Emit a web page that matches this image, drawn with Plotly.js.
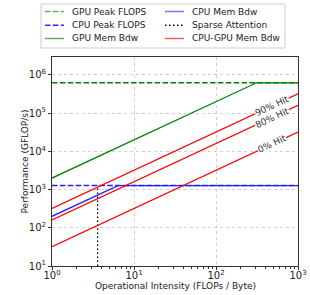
<!DOCTYPE html>
<html><head><meta charset="utf-8">
<script src="https://cdn.plot.ly/plotly-3.0.1.min.js"></script>
<style>body{margin:0;padding:0;background:#fff}#c{width:310px;height:295px}</style>
</head><body><div id="c"></div>
<script>
// Roofline parameters (GFLOP/s and GB/s)
const xRange = [1, 1000];
const gpuPeak = 624000;
const cpuPeak = 1275;
const gpuBdw = 2000;
const cpuBdw = 200;
const pcieBdw = 32;
const hitRates = [0.9, 0.8, 0.0];
const hitLabels = ["90% Hit", "80% Hit", "0% Hit"];
const labelX = 480;
const sparseAI = 3.6;
const xTickVals = [1, 10, 100, 1000];
const xTickText = ["10<sup>0</sup>", "10<sup>1</sup>", "10<sup>2</sup>", "10<sup>3</sup>"];
const yTickVals = [10, 100, 1000, 10000, 100000, 1000000];
const yTickText = ["10<sup>1</sup>", "10<sup>2</sup>", "10<sup>3</sup>", "10<sup>4</sup>", "10<sup>5</sup>", "10<sup>6</sup>"];
const xTitle = "Operational Intensity (FLOPs / Byte)";
const yTitle = "Performance (GFLOP/s)";
// legend (two columns)
const legendNames = ["GPU Peak FLOPS", "CPU Peak FLOPS", "GPU Mem Bdw", "CPU Mem Bdw", "Sparse Attention", "CPU-GPU Mem Bdw"];
const legendColors = ["#5cb85c", "#2a2aff", "#5cae5c", "#7474ff", "#000000", "#ff5c5c"];

const DASH = "5.5px,2.4px", DOT = "1.5px,2.5px";
const legendDash = [DASH, DASH, "solid", "solid", DOT, "solid"];

const traces = [];
function roofX(bdw, peak){ return [xRange[0], peak/bdw, xRange[1]]; }
function roofY(bdw, peak){ return [bdw*xRange[0], peak, peak]; }

traces.push({x: xRange, y: [gpuPeak, gpuPeak], mode:'lines', name:'GPU Peak FLOPS',
  line:{color:'#008000', dash:DASH, width:1.5}});
traces.push({x: xRange, y: [cpuPeak, cpuPeak], mode:'lines', name:'CPU Peak FLOPS',
  line:{color:'#2020ff', dash:DASH, width:1.5}});
traces.push({x: roofX(cpuBdw, cpuPeak), y: roofY(cpuBdw, cpuPeak), mode:'lines', name:'CPU Mem Bdw',
  line:{color:'#2020ff', width:1.3}});
traces.push({x: [sparseAI, sparseAI], y: [10, cpuPeak], mode:'lines', name:'Sparse Attention',
  line:{color:'#000000', dash:DOT, width:1.3}});
traces.push({x: roofX(gpuBdw, gpuPeak), y: roofY(gpuBdw, gpuPeak), mode:'lines', name:'GPU Mem Bdw',
  line:{color:'#008000', width:1.3}});
hitRates.forEach((h, i) => {
  const b = pcieBdw/(1-h);
  traces.push({x: xRange, y: [b*xRange[0], b*xRange[1]], mode:'lines', name:'CPU-GPU Mem Bdw',
    line:{color:'#ff0000', width:1.3}});
});

const annotations = hitRates.map((h, i) => ({
  x: Math.log10(labelX), y: Math.log10(pcieBdw/(1-h)*labelX), xref:'x', yref:'y',
  text: hitLabels[i], showarrow:false, textangle:-25, bgcolor:'#ffffff',
  font:{family:'DejaVu Sans', size:9, color:'#333'}, borderpad:0
}));

// Pixel helpers for layout decorations (legend box, titles)
const PL = 52, PT = 57, PW = 246, PH = 209;
const px = v => (v - PL) / PW;
const py = v => (PT + PH - v) / PH;

annotations.push({xref:'paper', yref:'paper', x:0.5, y:py(285.5), text:xTitle, showarrow:false,
  xanchor:'center', yanchor:'middle', font:{family:'DejaVu Sans', size:9, color:'#222'}});
annotations.push({xref:'paper', yref:'paper', x:px(24), y:0.5, text:yTitle, showarrow:false, textangle:-90,
  xanchor:'center', yanchor:'middle', font:{family:'DejaVu Sans', size:9, color:'#222'}});

const shapes = [{type:'rect', xref:'paper', yref:'paper', x0:px(41), x1:px(285), y0:py(4), y1:py(48),
  line:{color:'#cccccc', width:1}, fillcolor:'#ffffff', layer:'above'}];
const colX = [45, 165], rowY = [11.5, 25.3, 38.5];
legendNames.forEach((name, i) => {
  const c = Math.floor(i / 3), r = i % 3;
  shapes.push({type:'line', xref:'paper', yref:'paper', x0:px(colX[c]), x1:px(colX[c] + 19),
    y0:py(rowY[r]), y1:py(rowY[r]), layer:'above',
    line:{color:legendColors[i], width:1.5, dash:legendDash[i]}});
  annotations.push({xref:'paper', yref:'paper', x:px(colX[c] + 25), y:py(rowY[r]),
    xanchor:'left', yanchor:'middle', text:name, showarrow:false,
    font:{family:'DejaVu Sans', size:9, color:'#222'}});
});

const minorX = [];
[1, 10, 100].forEach(d => { for (let k = 2; k <= 9; k++) minorX.push(d*k); });

const axisCommon = {
  type:'log', showline:true, linecolor:'#333', linewidth:1, mirror:true,
  ticks:'outside', ticklen:3, tickcolor:'#333', tickmode:'array',
  showgrid:true, gridcolor:'#d0d0d0', griddash:'dot', gridwidth:1, zeroline:false,
  tickfont:{family:'DejaVu Sans', size:10, color:'#222'}
};

const layout = {
  width:310, height:295,
  margin:{l:PL, r:310-PL-PW, t:PT, b:295-PT-PH, autoexpand:false},
  paper_bgcolor:'#fff', plot_bgcolor:'#fff',
  font:{family:'DejaVu Sans', size:9, color:'#222'},
  xaxis: Object.assign({}, axisCommon, {range:[0,3], tickvals:xTickVals, ticktext:xTickText,
    ticklabelstandoff:-3,
    minor:{tickmode:'array', tickvals:minorX, ticks:'outside', ticklen:2, tickcolor:'#333', showgrid:false}}),
  yaxis: Object.assign({}, axisCommon, {range:[1,6.47], tickvals:yTickVals, ticktext:yTickText}),
  showlegend:false,
  shapes: shapes,
  annotations: annotations
};

Plotly.newPlot('c', traces, layout, {displayModeBar:false, staticPlot:true});
</script></body></html>
